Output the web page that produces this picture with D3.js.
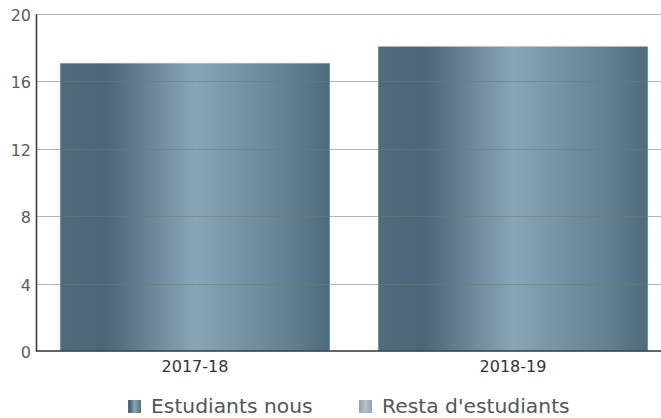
<!DOCTYPE html>
<html>
<head>
<meta charset="utf-8">
<script src="https://cdn.jsdelivr.net/npm/d3@7"></script>
<style>
  body { margin: 0; background: #fff; }
  svg { display: block; font-family: "DejaVu Sans", sans-serif; }
</style>
</head>
<body>
<script>
// data
const categories = ["2017-18", "2018-19"];
const nous = [17, 18];
const resta = [0, 0];
const yTicks = [0, 4, 8, 12, 16, 20];
const seriesNames = ["Estudiants nous", "Resta d'estudiants"];

const width = 661, height = 418;
const marginLeft = 36, plotTop = 14, plotBottom = 351;

const svg = d3.select("body").append("svg")
    .attr("width", width)
    .attr("height", height);

// gradients
const defs = svg.append("defs");
const g1 = defs.append("linearGradient").attr("id", "barGrad")
    .attr("x1", "0%").attr("x2", "100%").attr("y1", "0%").attr("y2", "0%");
[["0%", "#4f6c7d"], ["17%", "#4a6678"], ["50%", "#89a6b6"], ["85%", "#62808f"], ["100%", "#4e6b7c"]]
    .forEach(s => g1.append("stop").attr("offset", s[0]).attr("stop-color", s[1]));
const g2 = defs.append("linearGradient").attr("id", "restaGrad")
    .attr("x1", "0%").attr("x2", "100%").attr("y1", "0%").attr("y2", "0%");
[["0%", "#8fa3b1"], ["50%", "#b4c4ce"], ["100%", "#8fa3b1"]]
    .forEach(s => g2.append("stop").attr("offset", s[0]).attr("stop-color", s[1]));

// scales
const x = d3.scaleBand()
    .domain(categories)
    .range([marginLeft, 672])
    .paddingInner(0.151)
    .paddingOuter(0.0755);

const y = d3.scaleLinear()
    .domain([0, 20])
    .range([plotBottom, plotTop]);

// bars (stacked)
const data = categories.map((c, i) => ({cat: c, nous: nous[i], resta: resta[i]}));
svg.append("g").selectAll("rect.nous")
    .data(data)
    .enter()
    .append("rect")
    .attr("x", d => x(d.cat))
    .attr("y", d => y(d.nous) - 1.5)
    .attr("width", x.bandwidth())
    .attr("height", d => y(0) - y(d.nous) + 1.5)
    .attr("fill", "url(#barGrad)")
    .attr("stroke", "#dfe6ea")
    .attr("stroke-width", 0.6);
svg.append("g").selectAll("rect.resta")
    .data(data.filter(d => d.resta > 0))
    .enter()
    .append("rect")
    .attr("x", d => x(d.cat))
    .attr("y", d => y(d.nous + d.resta))
    .attr("width", x.bandwidth())
    .attr("height", d => y(d.nous) - y(d.nous + d.resta))
    .attr("fill", "url(#restaGrad)");

// gridlines over bars
svg.append("g").selectAll("line")
    .data(yTicks.filter(t => t > 0))
    .enter()
    .append("line")
    .attr("x1", marginLeft).attr("x2", width)
    .attr("y1", d => Math.round(y(d)) + 0.5)
    .attr("y2", d => Math.round(y(d)) + 0.5)
    .attr("stroke", "#777")
    .attr("stroke-opacity", 0.55)
    .attr("stroke-width", 1.2);

// y axis
const leftAxis = d3.axisLeft(y).tickValues(yTicks).tickSize(0).tickPadding(5);
const ya = svg.append("g")
    .attr("transform", "translate(" + marginLeft + ",0)")
    .call(leftAxis);
ya.select(".domain").attr("stroke", "#333").attr("stroke-width", 1.5);
ya.selectAll("text").attr("font-size", 16).attr("fill", "#5a5a5a")
    .attr("dy", "0.4em")
    .attr("font-family", "DejaVu Sans, sans-serif");

// x axis
const bottomAxis = d3.axisBottom(x).tickSize(0).tickPadding(10);
const xa = svg.append("g")
    .attr("transform", "translate(0," + plotBottom + ")")
    .call(bottomAxis);
xa.select(".domain").attr("d", "M" + marginLeft + ",0H" + width)
    .attr("stroke", "#333").attr("stroke-width", 1.5);
xa.selectAll("text").attr("font-size", 16).attr("fill", "#333")
    .attr("font-family", "DejaVu Sans, sans-serif");

// legend
const legendX = [128, 359];
const fills = ["url(#barGrad)", "url(#restaGrad)"];
const lg = svg.append("g").selectAll("g")
    .data(seriesNames)
    .enter()
    .append("g")
    .attr("transform", (d, i) => "translate(" + legendX[i] + ",400)");
lg.append("rect")
    .attr("width", 13).attr("height", 13)
    .attr("fill", (d, i) => fills[i]);
lg.append("text")
    .attr("x", 23).attr("y", 13)
    .attr("font-size", 20.3)
    .attr("fill", "#555")
    .text(d => d);
</script>
</body>
</html>
